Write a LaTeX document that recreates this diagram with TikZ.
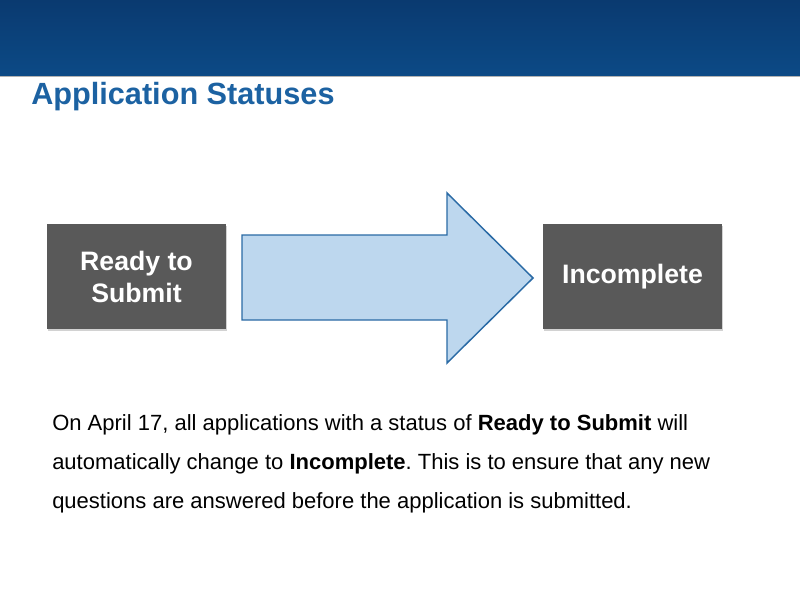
\documentclass[tikz,border=0pt]{standalone}
\usepackage{fontspec}
\setmainfont{Liberation Sans}
\usetikzlibrary{shadows}
\frenchspacing
\definecolor{bandtop}{HTML}{0A3A70}
\definecolor{bandbot}{HTML}{0C4A86}
\definecolor{titleblue}{HTML}{1C62A2}
\definecolor{boxgray}{HTML}{595959}
\definecolor{arrowfill}{HTML}{BDD7EE}
\definecolor{arrowline}{HTML}{2A6AA5}
\tikzset{
  statusbox/.style={fill=boxgray,draw=none,minimum width=134.25pt,minimum height=78.75pt,
    inner sep=0pt,text=white,align=center,
    font=\fontsize{20}{24}\selectfont\bfseries,
    drop shadow={shadow xshift=1pt,shadow yshift=-1.5pt,opacity=0.35}},
}
\begin{document}
\begin{tikzpicture}[x=0.75pt,y=-0.75pt]
		\useasboundingbox (0,0) rectangle (800,600);
		\fill[white] (0,0) rectangle (800,600);
		% header band
		\shade[top color=bandtop,bottom color=bandbot] (0,0) rectangle (800,76);
		\draw[gray!60,line width=0.6pt] (0,76.5) -- (800,76.5);
		\node[anchor=base west,inner sep=0pt,text=titleblue,font=\fontsize{23}{27}\selectfont\bfseries] (title) at (31,104) {Application Statuses};
		
		% status boxes
		\node[statusbox] (ready) at (136.5,276.5) {Ready to\\Submit};
		\node[statusbox] (incomplete) at (632.5,276.5) {Incomplete};
		
		% block arrow
		\filldraw[fill=arrowfill,draw=arrowline,line width=1.1pt,line join=miter]
			(242,235) -- (447,235) -- (447,193) -- (533,278) -- (447,363) -- (447,320) -- (242,320) -- cycle;
		
		% note
		\node[anchor=base west,inner sep=0pt,align=left,font=\fontsize{16.5}{29}\selectfont] (note) at (52,508)
			{On April 17, all applications with a status of \textbf{Ready to Submit} will\\
			 automatically change to \textbf{Incomplete}. This is to ensure that any new\\
			 questions are answered before the application is submitted.};
\end{tikzpicture}
\end{document}
